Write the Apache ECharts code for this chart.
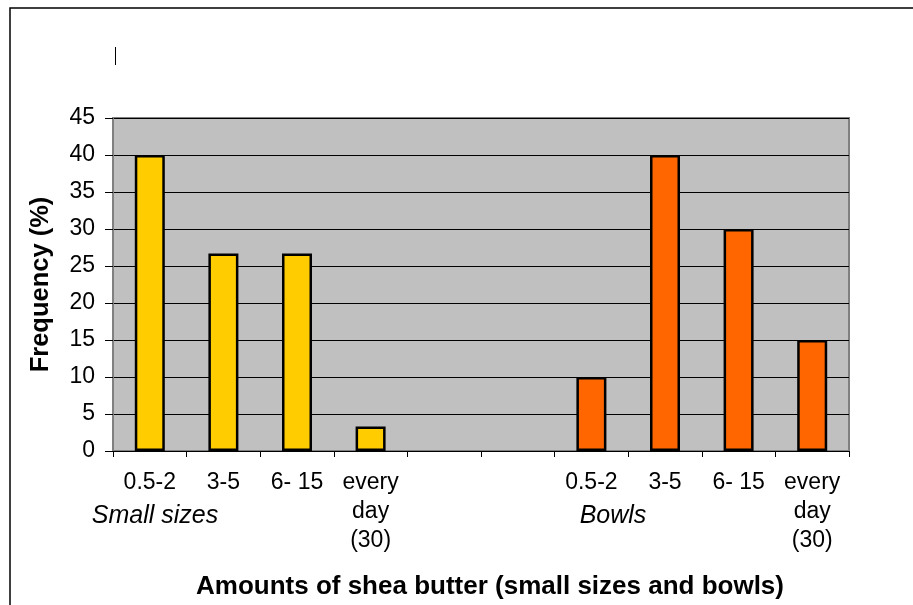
<!DOCTYPE html>
<html>
<head>
<meta charset="utf-8">
<script src="https://cdn.jsdelivr.net/npm/echarts@6/dist/echarts.min.js"></script>
<style>
  html, body { margin: 0; padding: 0; background: #fff; }
  #chart { width: 913px; height: 605px; }
</style>
</head>
<body>
<div id="chart"></div>
<script>
// amounts (categories), two gaps between the groups
const categories = ['0.5-2', '3-5', '6- 15', 'every\nday\n(30)', '', '', '0.5-2', '3-5', '6- 15', 'every\nday\n(30)'];
const smallSizes = [40, 26.7, 26.7, 3.3, '-', '-', '-', '-', '-', '-'];
const bowls = ['-', '-', '-', '-', '-', '-', 10, 40, 30, 15];
const yTicks = [0, 5, 10, 15, 20, 25, 30, 35, 40, 45];

const myChart = echarts.init(document.getElementById('chart'));

const font = 'Liberation Sans, Arial, sans-serif';

const option = {
  animation: false,
  backgroundColor: '#fff',
  textStyle: { fontFamily: font },
  grid: {
    left: 113,
    top: 118,
    right: 64,
    bottom: 154,
    show: true,
    backgroundColor: '#C0C0C0',
    borderColor: '#808080',
    borderWidth: 2
  },
  xAxis: {
    type: 'category',
    data: categories,
    name: 'Amounts of shea butter (small sizes and bowls)',
    nameLocation: 'middle',
    nameGap: 123,
    nameTextStyle: {
      fontFamily: font, fontSize: 26, fontWeight: 'bold', color: '#000',
      padding: [0, 0, 0, 18]
    },
    axisLine: { lineStyle: { color: '#000', width: 1 } },
    axisTick: { show: true, length: 6, lineStyle: { color: '#000' } },
    axisLabel: {
      interval: 0,
      margin: 17,
      fontSize: 23,
      lineHeight: 29,
      color: '#000',
      fontFamily: font
    }
  },
  yAxis: {
    type: 'value',
    min: yTicks[0],
    max: yTicks[yTicks.length - 1],
    interval: 5,
    name: 'Frequency (%)',
    nameLocation: 'middle',
    nameGap: 59,
    nameTextStyle: { fontFamily: font, fontSize: 25.5, fontWeight: 'bold', color: '#000' },
    axisLine: { show: true, lineStyle: { color: '#808080', width: 2 } },
    axisTick: { show: true, length: 8, lineStyle: { color: '#000' } },
    axisLabel: { fontSize: 23, color: '#000', margin: 18, fontFamily: font },
    splitLine: { show: true, lineStyle: { color: '#000', width: 1 } }
  },
  series: [
    {
      name: 'Small sizes',
      type: 'bar',
      stack: 'all',
      barWidth: 30,
      data: smallSizes,
      itemStyle: { color: '#FFCC00', borderColor: '#000', borderWidth: 2.5 }
    },
    {
      name: 'Bowls',
      type: 'bar',
      stack: 'all',
      barWidth: 30,
      data: bowls,
      itemStyle: { color: '#FF6600', borderColor: '#000', borderWidth: 2.5 }
    }
  ],
  graphic: [
    {
      type: 'rect',
      shape: { x: 10, y: 8, width: 920, height: 620 },
      style: { fill: 'none', stroke: '#000', lineWidth: 1.5 },
      silent: true
    },
    {
      type: 'line',
      shape: { x1: 115.5, y1: 47, x2: 115.5, y2: 65 },
      style: { stroke: '#000', lineWidth: 1 }
    },
    {
      type: 'text',
      x: 155, y: 516,
      style: {
        text: 'Small sizes', fontFamily: font, fontSize: 25, fontStyle: 'italic',
        fill: '#000', textAlign: 'center', textVerticalAlign: 'middle'
      }
    },
    {
      type: 'text',
      x: 613, y: 516,
      style: {
        text: 'Bowls', fontFamily: font, fontSize: 25, fontStyle: 'italic',
        fill: '#000', textAlign: 'center', textVerticalAlign: 'middle'
      }
    }
  ]
};

myChart.setOption(option);
</script>
</body>
</html>
